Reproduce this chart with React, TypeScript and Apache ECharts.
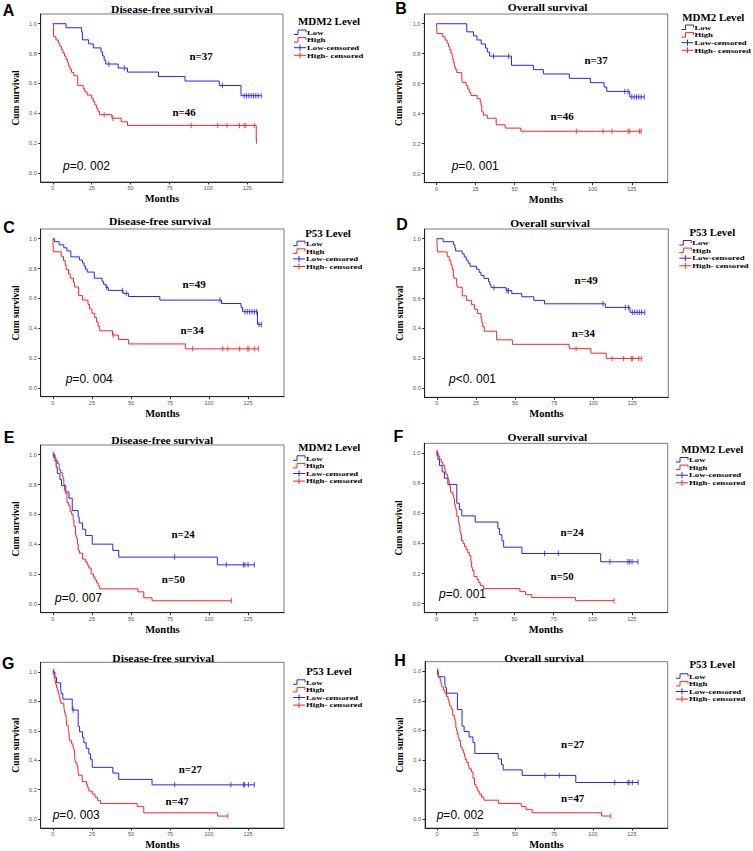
import React, { useEffect, useRef } from 'react';
import * as echarts from 'echarts';

const BLUE = '#2323ff';
const RED = '#ff2323';
const SERIF = '"Liberation Serif", "Times New Roman", serif';
const SANS = '"Liberation Sans", Arial, sans-serif';

const xTicks = [0, 25, 50, 75, 100, 125];
const yTicks = [0, 0.2, 0.4, 0.6, 0.8, 1.0];

// ---- Panel A: MDM2, Disease-free survival ----
const aLow = [[0,1],[8.5,0.973],[18.5,0.946],[19,0.892],[23,0.865],[26,0.838],[31,0.811],[32,0.784],[33,0.757],[34,0.730],[42,0.703],[48,0.676],[68,0.646],[85,0.616],[107,0.586],[121,0.518]];
const aLowCens = [36,46,109,123,124.5,126,127.5,129,130.5,132,134];
const aHigh = [[0,1],[0.5,0.913],[2,0.891],[3.5,0.870],[4.5,0.848],[5.5,0.826],[6.5,0.804],[7.5,0.783],[8.5,0.761],[9.5,0.739],[10,0.717],[11,0.696],[12,0.674],[13.5,0.652],[16,0.587],[19.5,0.565],[20.5,0.543],[22,0.522],[25,0.500],[26,0.478],[27,0.457],[28,0.435],[29,0.413],[30,0.391],[38,0.367],[44,0.343],[48,0.319],[130.8,0.213]];
const aHighCens = [33,38.5,89,106,112,120,123,124,129.5,131];

// ---- Panel B: MDM2, Overall survival ----
const bLow = [[0,1],[19.4,0.946],[23.7,0.919],[25.9,0.892],[28.6,0.865],[31.4,0.838],[32.5,0.811],[34,0.784],[48,0.723],[62,0.694],[68.4,0.665],[85,0.636],[98.5,0.607],[107.3,0.578],[109,0.549],[123.7,0.512]];
const bLowCens = [36.5,46.2,120.5,122.6,125,126.5,128,129.5,131,133];
const bHigh = [[0,1],[0.3,0.935],[4,0.913],[5.5,0.891],[6.8,0.870],[7.7,0.848],[8.5,0.826],[9.3,0.804],[10,0.783],[10.5,0.761],[11,0.739],[11.5,0.717],[12,0.696],[13,0.674],[16.2,0.630],[16.6,0.609],[19,0.587],[20,0.565],[21,0.543],[22,0.522],[26,0.500],[28,0.478],[28.5,0.457],[29,0.413],[30,0.391],[32.5,0.370],[38.2,0.326],[44,0.304],[54,0.283]];
const bHighCens = [89.5,106.6,112.4,122.6,123.7,130,131];

// ---- Panel C: P53, Disease-free survival ----
const cLow = [[0,1],[1,0.980],[4,0.959],[7,0.939],[9,0.918],[11.5,0.878],[17,0.857],[19,0.837],[20,0.816],[20.8,0.796],[22,0.776],[26.5,0.735],[31.5,0.714],[32.5,0.694],[34,0.673],[35.5,0.653],[45,0.633],[48.5,0.612],[68.5,0.588],[108,0.565],[120.5,0.540],[121.5,0.510],[131,0.425]];
const cLowCens = [34.5,44.5,47,107,123,124.5,126,127.5,129,130.5,132,133.5];
const cHigh = [[0,1],[0.3,0.912],[5.3,0.882],[6.8,0.853],[7.9,0.824],[8.5,0.794],[10,0.765],[11.1,0.735],[13.2,0.706],[13.8,0.676],[16.5,0.618],[19,0.588],[22.5,0.559],[23.5,0.529],[25,0.500],[26.8,0.471],[28,0.441],[29,0.412],[30,0.382],[38.2,0.353],[42,0.324],[48.5,0.294],[84.8,0.261]];
const cHighCens = [38.6,89.5,108.8,112,119.6,124.8,125.6,129,131.6];

// ---- Panel D: P53, Overall survival ----
const dLow = [[0,1],[4,0.980],[10.7,0.959],[11.5,0.939],[12,0.918],[16.2,0.898],[17.5,0.878],[18.8,0.857],[20,0.837],[21.2,0.816],[25.4,0.796],[27,0.776],[28.2,0.755],[30.1,0.735],[33,0.714],[33.8,0.694],[34.6,0.673],[44.2,0.653],[47.9,0.633],[54.3,0.612],[62,0.588],[68.8,0.565],[107.7,0.541],[123.5,0.508]];
const dLowCens = [36.5,44.8,45.8,106.2,120.5,122.6,125,126.5,128,129.5,131,133];
const dHigh = [[0,1],[0.3,0.912],[6.6,0.882],[7.9,0.853],[9,0.824],[9.8,0.794],[10.5,0.765],[10.9,0.735],[12.6,0.706],[13,0.676],[16.2,0.618],[19,0.588],[22.2,0.559],[24,0.529],[26,0.500],[28.2,0.471],[28.7,0.441],[29.3,0.412],[30.3,0.382],[38.2,0.324],[48.3,0.294],[84.6,0.265],[98.5,0.235],[108.3,0.200]];
const dHighCens = [89,112,119.4,124.4,125.2,129,131];

// ---- Panel E: MDM2, Disease-free survival ----
const eLow = [[0,1],[1.3,0.958],[2.1,0.917],[2.8,0.875],[4.5,0.833],[5.5,0.792],[8.3,0.750],[10.3,0.708],[12.4,0.625],[16.2,0.583],[16.8,0.542],[19,0.500],[21,0.458],[25.2,0.400],[38.4,0.358],[42.2,0.313],[105.3,0.261]];
const eLowCens = [0.5,78,111,122,123,125,129];
const eHigh = [[0,1],[1,0.98],[2,0.96],[3,0.94],[4,0.90],[5,0.88],[6,0.86],[6.5,0.84],[7,0.80],[7.5,0.76],[8,0.74],[9,0.68],[10,0.66],[11,0.62],[12,0.60],[13,0.56],[13.5,0.52],[14.5,0.46],[15,0.44],[15.7,0.40],[16.2,0.36],[17,0.34],[19,0.30],[21,0.28],[22,0.26],[23,0.24],[24.5,0.20],[26,0.18],[27,0.16],[28,0.14],[29,0.12],[30,0.10],[54.4,0.08],[58.2,0.04],[63.5,0.02]];
const eHighCens = [0.3,114.3];

// ---- Panel F: MDM2, Overall survival ----
const fLow = [[0,1],[0.9,0.958],[1.9,0.917],[3.6,0.875],[5.1,0.833],[7.3,0.792],[13,0.667],[14.7,0.625],[16.2,0.583],[24.8,0.542],[39.3,0.500],[40.4,0.458],[41.9,0.417],[43,0.375],[54.7,0.333],[105.1,0.278]];
const fLowCens = [0.5,69.2,78,111,122.6,123.7,125.2,129];
const fHigh = [[0,1],[1,0.98],[2,0.96],[3,0.94],[4,0.92],[5,0.90],[5.5,0.88],[6,0.86],[7,0.84],[7.5,0.82],[8,0.80],[8.5,0.78],[9,0.74],[10.5,0.72],[11,0.70],[11.5,0.66],[12,0.64],[12.5,0.62],[13,0.58],[14,0.54],[14.5,0.52],[15,0.48],[15.5,0.46],[16,0.42],[17,0.40],[18,0.38],[19,0.36],[20,0.34],[21,0.32],[22,0.28],[22.5,0.24],[23,0.22],[24,0.18],[26,0.16],[27,0.14],[28,0.12],[30,0.10],[53.4,0.08],[57,0.06],[61,0.04],[89,0.02]];
const fHighCens = [0.3,113.7];

// ---- Panel G: P53, Disease-free survival ----
const gLow = [[0,1],[1.3,0.963],[2.3,0.926],[5,0.889],[5.3,0.852],[6.4,0.815],[12.4,0.741],[16.2,0.630],[17.1,0.593],[19,0.556],[19.8,0.519],[21.3,0.481],[23,0.444],[24.1,0.407],[25.2,0.352],[38.4,0.313],[42.2,0.270],[63.5,0.233]];
const gLowCens = [0.5,13,78,114,122,122.8,125.2,129];
const gHigh = [[0,1],[0.8,0.957],[1.3,0.936],[1.8,0.915],[2.3,0.894],[2.8,0.872],[3.5,0.851],[4,0.830],[4.5,0.809],[5,0.787],[7,0.766],[7.3,0.745],[7.5,0.723],[8,0.702],[8.5,0.681],[8.8,0.638],[9.8,0.617],[10.2,0.596],[10.5,0.553],[10.7,0.532],[12,0.511],[12.8,0.489],[13.4,0.468],[13.9,0.426],[14.1,0.404],[14.5,0.383],[15.5,0.362],[16,0.340],[16.4,0.298],[18.8,0.255],[21.5,0.234],[22.3,0.213],[23,0.191],[25.2,0.170],[27,0.149],[28.5,0.128],[30.5,0.106],[54,0.085],[58.2,0.043],[105.5,0.021]];
const gHighCens = [0.3,112];

// ---- Panel H: P53, Overall survival ----
const hLow = [[0,1],[0.6,0.963],[4.9,0.926],[5.3,0.889],[6,0.852],[13,0.741],[16,0.630],[17.3,0.593],[20.5,0.556],[23,0.519],[24.2,0.444],[39.2,0.407],[41.3,0.370],[42.4,0.333],[54.6,0.296],[89,0.248]];
const hLowCens = [0.4,69.2,78.4,114,122.5,123.2,125.3,129];
const hHigh = [[0,1],[0.5,0.979],[1,0.957],[2,0.936],[2.5,0.915],[3,0.894],[4,0.872],[5,0.851],[6,0.830],[7,0.809],[7.5,0.787],[8,0.766],[9,0.745],[10,0.702],[11,0.681],[11.5,0.660],[12,0.617],[12.5,0.596],[13,0.574],[13.5,0.553],[14,0.532],[15,0.489],[16,0.468],[17,0.447],[17.5,0.426],[18,0.404],[19,0.383],[20,0.362],[20.5,0.340],[22,0.319],[23,0.277],[24,0.234],[25,0.213],[26,0.191],[27,0.170],[28.5,0.149],[30,0.128],[39.5,0.106],[54,0.085],[57,0.064],[61,0.043],[105.5,0.021]];
const hHighCens = [0.3,111.5];

const panelLetters = ['A','B','C','D','E','F','G','H'];
const panelTitles = ['Disease-free survival','Overall survival','Disease-free survival','Overall survival','Disease-free survival','Overall survival','Disease-free survival','Overall survival'];
const legendTitles = ['MDM2 Level','MDM2 Level','P53 Level','P53 Level','MDM2 Level','MDM2 Level','P53 Level','P53 Level'];
const legendItems = ['Low','High','Low-censored','High- censored'];
const nLowLabels = ['n=37','n=37','n=49','n=49','n=24','n=24','n=27','n=27'];
const nHighLabels = ['n=46','n=46','n=34','n=34','n=50','n=50','n=47','n=47'];
const pLabels = ['=0. 002','=0. 001','=0. 004','<0. 001','=0. 007','=0. 001','=0. 003','=0. 002'];

const lowCurves = [aLow,bLow,cLow,dLow,eLow,fLow,gLow,hLow];
const lowCens = [aLowCens,bLowCens,cLowCens,dLowCens,eLowCens,fLowCens,gLowCens,hLowCens];
const highCurves = [aHigh,bHigh,cHigh,dHigh,eHigh,fHigh,gHigh,hHigh];
const highCens = [aHighCens,bHighCens,cHighCens,dHighCens,eHighCens,fHighCens,gHighCens,hHighCens];

// layout (pixels)
const layout = [
  { box: [40.7, 14, 242.3, 168], letter: [8.5, 10], title: [162, 9], legT: [329, 21.5], item0: 32.5, textX: 307, nLow: [201, 57], nHigh: [184, 113], p: [63, 166] },
  { box: [424.3, 14, 243.4, 168.7], letter: [401, 8], title: [547.7, 6.7], legT: [713.3, 18], item0: 27.5, textX: 694.5, nLow: [596, 60.7], nHigh: [562, 116.7], p: [451.7, 165.7] },
  { box: [40.7, 229, 243.3, 167.7], letter: [9, 227.5], title: [160, 221], legT: [328, 233.3], item0: 243.7, textX: 306, nLow: [194, 285], nHigh: [192, 331], p: [65.7, 379.3] },
  { box: [424.7, 229, 243.6, 168.3], letter: [402, 224.7], title: [550, 222.7], legT: [712.3, 233], item0: 243, textX: 692.3, nLow: [586, 281], nHigh: [583.3, 333.3], p: [449, 379.3] },
  { box: [40.7, 445, 243.3, 167.7], letter: [9, 437.3], title: [162.3, 440], legT: [329.3, 447.7], item0: 458.3, textX: 306, nLow: [183, 535], nHigh: [173.3, 580], p: [55, 597.7] },
  { box: [424.3, 443.3, 243.4, 169.4], letter: [398.3, 436.7], title: [547.3, 436.7], legT: [712.3, 449.3], item0: 460, textX: 689, nLow: [572, 532.7], nHigh: [562, 576.7], p: [439, 594.3] },
  { box: [40.7, 662.3, 243.3, 168.4], letter: [8.3, 663.3], title: [163.3, 657.7], legT: [329, 671.7], item0: 682.3, textX: 306, nLow: [190.3, 770], nHigh: [177, 801.7], p: [52.7, 815] },
  { box: [425, 661.7, 242.7, 169.3], letter: [400, 660], title: [544, 658.3], legT: [712.3, 665], item0: 676.3, textX: 689, nLow: [572.7, 745], nHigh: [572.7, 798.3], p: [436.7, 815] },
];
const ITEM_STEP = 7.6;

function survAt(curve: number[][], t: number) {
  let s = 1;
  for (const [tt, ss] of curve) {
    if (tt <= t) s = ss; else break;
  }
  return s;
}
function lineData(curve: number[][], cens: number[]) {
  const d = curve.map((p) => [p[0], p[1]]);
  const last = curve[curve.length - 1];
  const maxC = Math.max(...cens);
  if (maxC > last[0]) d.push([maxC, last[1]]);
  return d;
}
function censData(curve: number[][], cens: number[]) {
  return cens.map((t) => [t, survAt(curve, t)]);
}

function txt(x: number, y: number, text: string, font: string, align = 'center', scaleX = 1) {
  return {
    type: 'text', x, y, scaleX, silent: true,
    style: { text, font, fill: '#000', align, verticalAlign: 'middle', textAlign: align, textVerticalAlign: 'middle' },
  };
}

function buildOption() {
  const grid: any[] = [];
  const xAxis: any[] = [];
  const yAxis: any[] = [];
  const series: any[] = [];
  const graphic: any[] = [];
  layout.forEach((L, i) => {
    const [l, t, w, h] = L.box;
    grid.push({ left: l, top: t, width: w, height: h, show: true, borderColor: '#7a7a7a', borderWidth: 1, backgroundColor: 'transparent' });
    xAxis.push({
      type: 'value', gridIndex: i, min: -7.8, max: 148,
      splitLine: { show: false },
      axisLine: { onZero: false, lineStyle: { color: '#222', width: 1 } },
      axisTick: { customValues: xTicks, length: 2.5, lineStyle: { color: '#333' } },
      axisLabel: { customValues: xTicks, fontSize: 5.5, fontFamily: SANS, color: '#555', margin: 3 },
      name: 'Months', nameLocation: 'middle', nameGap: 11,
      nameTextStyle: { fontFamily: SERIF, fontWeight: 'bold', fontSize: 10.5, color: '#000' },
    });
    yAxis.push({
      type: 'value', gridIndex: i, min: -0.06, max: 1.065,
      splitLine: { show: false },
      axisLine: { onZero: false, lineStyle: { color: '#222', width: 1 } },
      axisTick: { customValues: yTicks, length: 2.5, lineStyle: { color: '#333' } },
      axisLabel: { customValues: yTicks, fontSize: 5.5, fontFamily: SANS, color: '#555', margin: 4, formatter: (v: number) => v.toFixed(1) },
      name: 'Cum survival', nameLocation: 'middle', nameRotate: 90, nameGap: 20,
      nameTextStyle: { fontFamily: SERIF, fontWeight: 'bold', fontSize: 9.5, color: '#000' },
    });
    const common = { xAxisIndex: i, yAxisIndex: i, silent: true, animation: false };
    series.push({ ...common, type: 'line', step: 'end', symbol: 'none', data: lineData(lowCurves[i], lowCens[i]), lineStyle: { color: BLUE, width: 1 }, z: 2 });
    series.push({ ...common, type: 'line', step: 'end', symbol: 'none', data: lineData(highCurves[i], highCens[i]), lineStyle: { color: RED, width: 1 }, z: 3 });
    series.push({ ...common, type: 'scatter', symbol: 'rect', symbolSize: [1, 5.5], data: censData(lowCurves[i], lowCens[i]), itemStyle: { color: BLUE }, z: 4 });
    series.push({ ...common, type: 'scatter', symbol: 'rect', symbolSize: [1, 5.5], data: censData(highCurves[i], highCens[i]), itemStyle: { color: RED }, z: 5 });

    // texts
    graphic.push(txt(L.letter[0], L.letter[1], panelLetters[i], `bold 16px ${SANS}`));
    graphic.push(txt(L.title[0], L.title[1], panelTitles[i], `bold 10.5px ${SERIF}`, 'center', 1.1));
    graphic.push(txt(L.legT[0], L.legT[1], legendTitles[i], `bold 9.5px ${SERIF}`, 'center', 1.15));
    legendItems.forEach((name, k) => {
      const y = L.item0 + k * ITEM_STEP;
      const color = k % 2 === 0 ? BLUE : RED;
      const x1 = L.textX - 13;
      const x2 = L.textX - 1;
      if (k < 2) {
        graphic.push({ type: 'polyline', silent: true, shape: { points: [[x1, y + 2], [x1 + 4, y + 2], [x1 + 4, y - 2.5], [x2, y - 2.5], [x2, y]] }, style: { stroke: color, lineWidth: 1, fill: 'none' } });
      } else {
        graphic.push({ type: 'line', silent: true, shape: { x1, y1: y, x2, y2: y }, style: { stroke: color, lineWidth: 1 } });
        graphic.push({ type: 'line', silent: true, shape: { x1: (x1 + x2) / 2, y1: y - 3, x2: (x1 + x2) / 2, y2: y + 3 }, style: { stroke: color, lineWidth: 1 } });
      }
      graphic.push(txt(L.textX, y, name, `bold 7px ${SERIF}`, 'left', 1.25));
    });
    graphic.push(txt(L.nLow[0], L.nLow[1], nLowLabels[i], `bold 9.5px ${SERIF}`, 'center', 1.15));
    graphic.push(txt(L.nHigh[0], L.nHigh[1], nHighLabels[i], `bold 9.5px ${SERIF}`, 'center', 1.15));
    graphic.push({
      type: 'text', x: L.p[0], y: L.p[1], silent: true,
      style: {
        text: '{i|p}' + pLabels[i],
        font: `12px ${SANS}`, fill: '#000',
        align: 'left', verticalAlign: 'middle', textAlign: 'left', textVerticalAlign: 'middle',
        rich: { i: { fontStyle: 'italic', fontSize: 12, fontFamily: SANS, fill: '#000' } },
      },
    });
  });
  return { animation: false, backgroundColor: '#fff', grid, xAxis, yAxis, series, graphic };
}

export default function App() {
  const ref = useRef<HTMLDivElement>(null);
  useEffect(() => {
    if (!ref.current) return;
    const chart = echarts.init(ref.current, undefined, { renderer: 'svg' });
    chart.setOption(buildOption() as any);
    return () => chart.dispose();
  }, []);
  return <div ref={ref} style={{ position: 'absolute', left: 0, top: 0, width: 753, height: 851, background: '#fff' }} />;
}
